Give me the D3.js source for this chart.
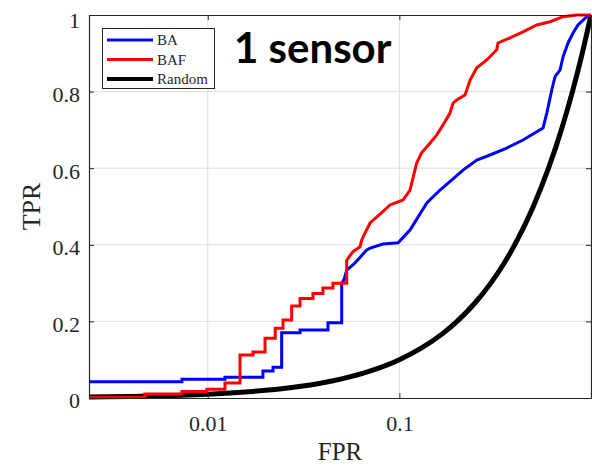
<!DOCTYPE html>
<html>
<head>
<meta charset="utf-8">
<script src="https://cdn.jsdelivr.net/npm/d3@7"></script>
<style>
  body { margin: 0; background: #fff; }
  svg { display: block; }
</style>
</head>
<body>
<svg id="chart" width="592" height="467"></svg>
<script>
// ROC curves (FPR, TPR)
var baFpr = [0.0024, 0.00733, 0.00733, 0.0123, 0.0123, 0.0194, 0.0194, 0.0219, 0.0219, 0.0243, 0.0243, 0.0303, 0.0303, 0.0424, 0.0424, 0.050, 0.050,
             0.0515, 0.0531, 0.058, 0.0675, 0.071, 0.082, 0.0985, 0.105, 0.1136, 0.139, 0.163, 0.215, 0.2535, 0.297, 0.363, 0.4417,
             0.521, 0.562, 0.588, 0.624, 0.649, 0.689, 0.715, 0.759, 0.806, 0.855, 0.95, 1];
var baTpr = [0.0426, 0.0426, 0.049, 0.049, 0.054, 0.054, 0.0705, 0.0705, 0.080, 0.080, 0.1705, 0.1705, 0.1775, 0.1775, 0.1966, 0.1966, 0.300,
             0.310, 0.334, 0.350, 0.3864, 0.392, 0.402, 0.4055, 0.420, 0.4386, 0.509, 0.543, 0.595, 0.6214, 0.6345, 0.6527, 0.6736,
             0.6953, 0.705, 0.744, 0.8042, 0.839, 0.856, 0.891, 0.927, 0.953, 0.974, 0.9956, 1];

var bafFpr = [0.0024, 0.0047, 0.0047, 0.00733, 0.00733, 0.0099, 0.0099, 0.0123, 0.0123, 0.01473, 0.01473, 0.01722, 0.01722, 0.0199, 0.0199,
              0.0225, 0.0225, 0.0247, 0.0247, 0.0274, 0.0274, 0.0303, 0.0303, 0.0354, 0.0354, 0.0399, 0.0399, 0.045, 0.045, 0.0531, 0.0531,
              0.0573, 0.0623, 0.0636, 0.0662, 0.0703, 0.082, 0.0893, 0.1045, 0.1136, 0.1231, 0.1306, 0.1446, 0.1567, 0.169, 0.1837,
              0.1907, 0.199, 0.220, 0.234, 0.2535, 0.2857, 0.322, 0.327, 0.378, 0.4417, 0.521, 0.611, 0.715, 0.842, 1];
var bafTpr = [0.002, 0.002, 0.0104, 0.0104, 0.017, 0.017, 0.023, 0.023, 0.039, 0.039, 0.112, 0.112, 0.120, 0.120, 0.156,
              0.156, 0.182, 0.182, 0.2037, 0.2037, 0.240, 0.240, 0.260, 0.260, 0.273, 0.273, 0.287, 0.287, 0.2995, 0.2995, 0.360,
              0.3825, 0.395, 0.4125, 0.431, 0.457, 0.4864, 0.504, 0.517, 0.543, 0.6136, 0.640, 0.666, 0.687, 0.713, 0.744,
              0.770, 0.778, 0.791, 0.830, 0.862, 0.8825, 0.909, 0.927, 0.940, 0.956, 0.974, 0.9825, 0.9956, 1, 1];

var randomFpr = [0.0024, 0.003, 0.004, 0.005, 0.006, 0.008, 0.01, 0.015, 0.02, 0.03, 0.04, 0.05, 0.07, 0.1, 0.13, 0.17, 0.2, 0.25, 0.3, 0.35, 0.4, 0.5, 0.6, 0.7, 0.8, 0.9, 1];
var randomTpr = [0.0024, 0.003, 0.004, 0.005, 0.006, 0.008, 0.01, 0.015, 0.02, 0.03, 0.04, 0.05, 0.07, 0.1, 0.13, 0.17, 0.2, 0.25, 0.3, 0.35, 0.4, 0.5, 0.6, 0.7, 0.8, 0.9, 1];

var xTicks = [0.01, 0.1];
var yTicks = [0, 0.2, 0.4, 0.6, 0.8, 1];
var seriesNames = ["BA", "BAF", "Random"];
var seriesColors = ["#0000ff", "#ff0000", "#000000"];

var plotLeft = 89, plotTop = 15, plotRight = 591, plotBottom = 398;
var axisColor = "#262626";
var serif = "'Liberation Serif', 'Times New Roman', serif";

var svg = d3.select("#chart");

var xScale = d3.scaleLog().domain([0.0024, 1]).range([plotLeft, plotRight]);
var yScale = d3.scaleLinear().domain([0, 1]).range([plotBottom, plotTop]);

// grid
var grid = svg.append("g");
grid.selectAll(".gx").data(xTicks).enter().append("line")
    .attr("x1", function(d) { return xScale(d); }).attr("x2", function(d) { return xScale(d); })
    .attr("y1", plotTop).attr("y2", plotBottom)
    .attr("stroke", "#dedede").attr("stroke-width", 1);
grid.selectAll(".gy").data(yTicks.slice(1, -1)).enter().append("line")
    .attr("y1", function(d) { return yScale(d); }).attr("y2", function(d) { return yScale(d); })
    .attr("x1", plotLeft).attr("x2", plotRight)
    .attr("stroke", "#dedede").attr("stroke-width", 1);

// curves
function zip(xs, ys) { return xs.map(function(x, i) { return [x, ys[i]]; }); }

var line = d3.line()
    .x(function(d) { return xScale(d[0]); })
    .y(function(d) { return yScale(d[1]); });

var plot = svg.append("g");
plot.append("path").datum(zip(randomFpr, randomTpr))
    .attr("d", line.curve(d3.curveMonotoneX))
    .attr("fill", "none").attr("stroke", seriesColors[2]).attr("stroke-width", 5);
line.curve(d3.curveLinear);
plot.append("path").datum(zip(baFpr, baTpr))
    .attr("d", line)
    .attr("fill", "none").attr("stroke", seriesColors[0]).attr("stroke-width", 3);
plot.append("path").datum(zip(bafFpr, bafTpr))
    .attr("d", line)
    .attr("fill", "none").attr("stroke", seriesColors[1]).attr("stroke-width", 3);

// axes (box with inward ticks)
var tickLen = 5;
var xAxisB = d3.axisBottom(xScale).tickValues(xTicks).tickSizeInner(-tickLen).tickSizeOuter(0).tickFormat(d3.format("~g"));
var xAxisT = d3.axisTop(xScale).tickValues(xTicks).tickSizeInner(-tickLen).tickSizeOuter(0).tickFormat("");
var yAxisL = d3.axisLeft(yScale).tickValues(yTicks).tickSizeInner(-tickLen).tickSizeOuter(0).tickFormat(d3.format("~g"));
var yAxisR = d3.axisRight(yScale).tickValues(yTicks).tickSizeInner(-tickLen).tickSizeOuter(0).tickFormat("");

var gxb = svg.append("g").attr("transform", "translate(0," + plotBottom + ")").call(xAxisB);
var gxt = svg.append("g").attr("transform", "translate(0," + plotTop + ")").call(xAxisT);
var gyl = svg.append("g").attr("transform", "translate(" + plotLeft + ",0)").call(yAxisL);
var gyr = svg.append("g").attr("transform", "translate(" + plotRight + ",0)").call(yAxisR);

[gxb, gxt, gyl, gyr].forEach(function(g) {
    g.select(".domain").attr("stroke", axisColor).attr("stroke-width", 1.2);
    g.selectAll(".tick line").attr("stroke", axisColor);
    g.selectAll(".tick text").attr("fill", axisColor).attr("font-family", serif).attr("font-size", 22);
});
gxb.selectAll(".tick text").attr("y", 17).attr("dy", "0.71em");
gyl.selectAll(".tick text").attr("x", -9).attr("dy", "0.45em");
gyl.select(".tick:last-of-type text").attr("dy", "0.55em");

// axis titles
svg.append("text").attr("x", (plotLeft + plotRight) / 2).attr("y", 460)
    .attr("text-anchor", "middle").attr("font-family", serif).attr("font-size", 25).attr("fill", axisColor)
    .text("FPR");
svg.append("text").attr("transform", "translate(40," + ((plotTop + plotBottom) / 2) + ") rotate(-90)")
    .attr("text-anchor", "middle").attr("font-family", serif).attr("font-size", 26).attr("fill", axisColor)
    .text("TPR");

// legend
var legend = svg.append("g");
legend.append("rect").attr("x", 102.5).attr("y", 28.5).attr("width", 112).attr("height", 60)
    .attr("fill", "#fff").attr("stroke", axisColor).attr("stroke-width", 1);
seriesNames.forEach(function(name, i) {
    var yy = 40 + i * 19.5;
    legend.append("line").attr("x1", 107).attr("x2", 153).attr("y1", yy).attr("y2", yy)
        .attr("stroke", seriesColors[i]).attr("stroke-width", i === 2 ? 4 : 3);
    legend.append("text").attr("x", 157).attr("y", yy).attr("dy", "0.35em")
        .attr("font-family", serif).attr("font-size", 15).attr("fill", axisColor)
        .text(name);
});

// annotation
svg.append("text").attr("x", 234).attr("y", 63)
    .attr("font-family", "Lato, 'Open Sans', sans-serif").attr("font-weight", "bold").attr("font-size", 42)
    .attr("fill", "#000")
    .text("1 sensor");
</script>
</body>
</html>
